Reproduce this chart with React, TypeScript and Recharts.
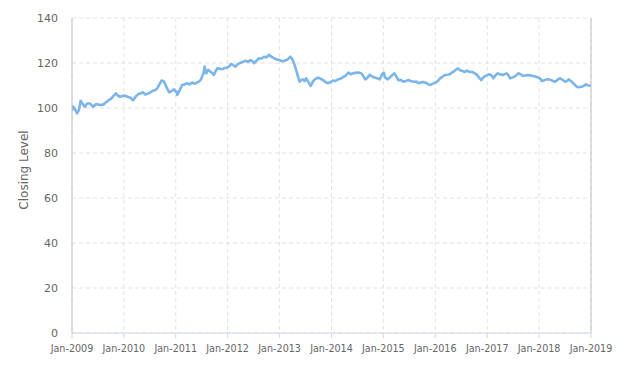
import React from 'react';
import { LineChart, Line, XAxis, YAxis, CartesianGrid, ReferenceLine } from 'recharts';

const dates: string[] = [
  '2009-01-02','2009-01-10','2009-01-22','2009-02-06','2009-02-18','2009-03-03','2009-03-20','2009-04-03','2009-04-17','2009-05-08',
  '2009-05-29','2009-06-19','2009-07-17','2009-08-08','2009-09-02','2009-09-18','2009-10-06','2009-10-22','2009-11-06','2009-11-20',
  '2009-12-04','2009-12-22','2010-01-08','2010-01-26','2010-02-13','2010-03-08','2010-03-24','2010-04-12','2010-04-30','2010-05-15',
  '2010-06-01','2010-06-21','2010-07-09','2010-07-26','2010-08-10','2010-08-24','2010-09-08','2010-09-23','2010-10-06','2010-10-16',
  '2010-10-30','2010-11-15','2010-12-01','2010-12-14','2010-12-19','2011-01-07','2011-01-12','2011-01-25','2011-02-15','2011-03-05',
  '2011-03-20','2011-04-08','2011-04-26','2011-05-18','2011-06-12','2011-06-26','2011-07-05','2011-07-18','2011-07-23','2011-08-03',
  '2011-08-18','2011-09-03','2011-09-16','2011-09-26','2011-10-10','2011-10-19','2011-11-07','2011-11-23','2011-12-12','2011-12-28',
  '2012-01-12','2012-01-26','2012-02-10','2012-02-25','2012-03-13','2012-04-01','2012-04-17','2012-05-07','2012-05-22','2012-06-11',
  '2012-06-24','2012-07-04','2012-07-22','2012-08-09','2012-08-27','2012-09-13','2012-10-01','2012-10-18','2012-11-05','2012-11-22',
  '2012-12-14','2013-01-01','2013-01-19','2013-02-05','2013-02-24','2013-03-18','2013-03-27','2013-04-03','2013-04-14','2013-04-27',
  '2013-05-10','2013-05-21','2013-06-03','2013-06-14','2013-06-25','2013-07-07','2013-07-22','2013-08-08','2013-08-21','2013-09-05',
  '2013-09-28','2013-10-16','2013-11-02','2013-11-20','2013-12-07','2013-12-25','2014-01-11','2014-01-29','2014-02-15','2014-03-05',
  '2014-03-21','2014-04-12','2014-04-30','2014-05-16','2014-05-31','2014-06-18','2014-07-05','2014-07-29','2014-08-10','2014-08-26',
  '2014-09-11','2014-09-26','2014-10-13','2014-11-01','2014-11-18','2014-12-06','2014-12-23','2015-01-04','2015-01-13','2015-02-01',
  '2015-02-22','2015-03-20','2015-04-02','2015-04-16','2015-05-03','2015-05-22','2015-06-08','2015-06-27','2015-07-13','2015-08-01',
  '2015-08-18','2015-09-06','2015-09-19','2015-10-04','2015-10-20','2015-11-03','2015-11-14','2015-11-26','2015-12-16','2016-01-01',
  '2016-01-20','2016-02-04','2016-02-23','2016-03-11','2016-03-30','2016-04-15','2016-04-27','2016-05-09','2016-05-25','2016-06-09',
  '2016-06-23','2016-07-07','2016-07-25','2016-08-11','2016-08-29','2016-09-16','2016-10-03','2016-10-21','2016-11-04','2016-11-20',
  '2016-12-02','2016-12-18','2017-01-03','2017-01-15','2017-01-31','2017-02-12','2017-02-28','2017-03-14','2017-03-31','2017-04-19',
  '2017-05-02','2017-05-18','2017-05-31','2017-06-10','2017-06-24','2017-07-10','2017-07-26','2017-08-10','2017-08-27','2017-09-12',
  '2017-09-28','2017-10-13','2017-10-30','2017-11-18','2017-12-05','2017-12-23','2018-01-09','2018-01-21','2018-02-05','2018-02-19',
  '2018-03-09','2018-03-26','2018-04-09','2018-04-24','2018-05-10','2018-05-28','2018-06-15','2018-07-04','2018-07-16','2018-07-27',
  '2018-08-13','2018-08-29','2018-09-14','2018-09-29','2018-10-16','2018-11-03','2018-11-16','2018-11-26','2018-12-14','2018-12-31',
];

const closingLevels: number[] = [
  99, 100.6, 99.5, 97.6, 99, 103.2, 101.5, 100.5, 102, 102,
  100.5, 101.8, 101.3, 101.5, 102.8, 103.5, 104.3, 105.5, 106.5, 105.5,
  105, 105.3, 105.5, 105, 104.7, 103.5, 105, 106.2, 106.5, 107,
  106, 106.5, 107, 107.7, 108, 108.7, 110.5, 112.2, 112, 111,
  109, 107, 107.5, 108, 108.3, 107, 105.8, 107.5, 110.2, 110.5,
  111, 110.5, 111.3, 110.8, 111.7, 112.5, 113.9, 116, 118.4, 115.4,
  117, 116.1, 115.5, 114.7, 116.5, 117.6, 117.5, 117.2, 117.8, 118,
  118.5, 119.6, 119, 118.4, 119.5, 120.1, 120.5, 121, 120.5, 121.3,
  120.8, 119.9, 121, 122.1, 122, 122.8, 122.5, 123.6, 122.8, 122.1,
  121.5, 121.3, 120.8, 121, 121.5, 122.8, 122, 121.3, 119.5, 116.9,
  114, 111.7, 112.5, 112.7, 112, 113.2, 111.5, 109.8, 111.5, 112.7,
  113.5, 113, 112.4, 111.5, 111, 111.5, 112.2, 112, 112.7, 113,
  113.6, 114.5, 115.7, 115, 115.4, 115.6, 115.8, 115.4, 114.5, 112.7,
  113.5, 114.7, 114, 113.6, 113.2, 112.7, 115, 115.7, 113.6, 112.7,
  114, 115.4, 114, 112.4, 112.5, 111.7, 112, 112.4, 112, 111.7,
  111.8, 111, 111.3, 111.6, 111.3, 111, 110.5, 110.2, 110.8, 111.3,
  112, 113.2, 114, 114.7, 114.8, 115.1, 115.8, 116.1, 117, 117.6,
  116.8, 116.6, 116, 116.6, 116, 116.1, 115.5, 114.7, 113.5, 112.4,
  113.5, 114.2, 114.7, 115, 114.5, 113.2, 114.5, 115.4, 115, 114.7,
  115, 115.4, 114.5, 113.2, 113.5, 113.9, 114.7, 115.4, 114.8, 114.2,
  114.5, 114.7, 114.5, 114.2, 114, 113.6, 113, 112, 112.3, 112.7,
  112.8, 112.4, 112, 111.7, 112.5, 113.2, 112.5, 111.7, 112, 112.7,
  112, 111, 110, 109.2, 109.3, 109.6, 110, 110.5, 110, 109.8,
];

const yTicks: number[] = [0, 20, 40, 60, 80, 100, 120, 140];
const tickYears: number[] = [2009, 2010, 2011, 2012, 2013, 2014, 2015, 2016, 2017, 2018, 2019];

const toTime = (s: string) => {
  const [y, m, d] = s.split('-').map(Number);
  return Date.UTC(y, m - 1, d);
};

const data = dates.map((d, i) => ({ t: toTime(d), v: closingLevels[i] }));
const xTicks = tickYears.map((y) => Date.UTC(y, 0, 1));
const fmtX = (t: number) => 'Jan-' + new Date(t).getUTCFullYear();

const FONT = '"DejaVu Sans", Verdana, sans-serif';

const YLabel = () => (
  <text
    x={24}
    y={170}
    transform="rotate(-90 24 170)"
    textAnchor="middle"
    dominantBaseline="central"
    fill="#666666"
    fontSize={12}
    fontFamily={FONT}
  >
    Closing Level
  </text>
);

export default function App() {
  return (
    <div style={{ position: 'absolute', left: 0, top: 0, width: 631, height: 366, background: '#fff' }}>
      <LineChart width={631} height={366} data={data} margin={{ top: 18, right: 40, left: 0, bottom: 0 }}>
        <CartesianGrid stroke="#e2e2e2" strokeDasharray="4 3" />
        <XAxis
          dataKey="t"
          type="number"
          domain={[xTicks[0], xTicks[xTicks.length - 1]]}
          ticks={xTicks}
          tickFormatter={fmtX}
          height={33}
          axisLine={{ stroke: '#ccd6eb' }}
          tickLine={{ stroke: '#ccd6eb' }}
          tickSize={5}
          tickMargin={7}
          tick={{ fill: '#666666', fontSize: 9.6, fontFamily: FONT }}
          interval={0}
          allowDataOverflow
        />
        <YAxis
          domain={[0, 140]}
          ticks={yTicks}
          width={72}
          axisLine={{ stroke: '#c0c0c0' }}
          tickLine={false}
          tickSize={0}
          tickMargin={14}
          tick={{ fill: '#666666', fontSize: 11, fontFamily: FONT }}
          interval={0}
          label={() => <YLabel />}
        />
        <ReferenceLine x={xTicks[xTicks.length - 1]} stroke="#c0c0c0" />
        <Line
          type="linear"
          dataKey="v"
          stroke="#7cb5ec"
          strokeWidth={2.6}
          strokeLinejoin="round"
          dot={false}
          isAnimationActive={false}
        />
      </LineChart>
    </div>
  );
}
